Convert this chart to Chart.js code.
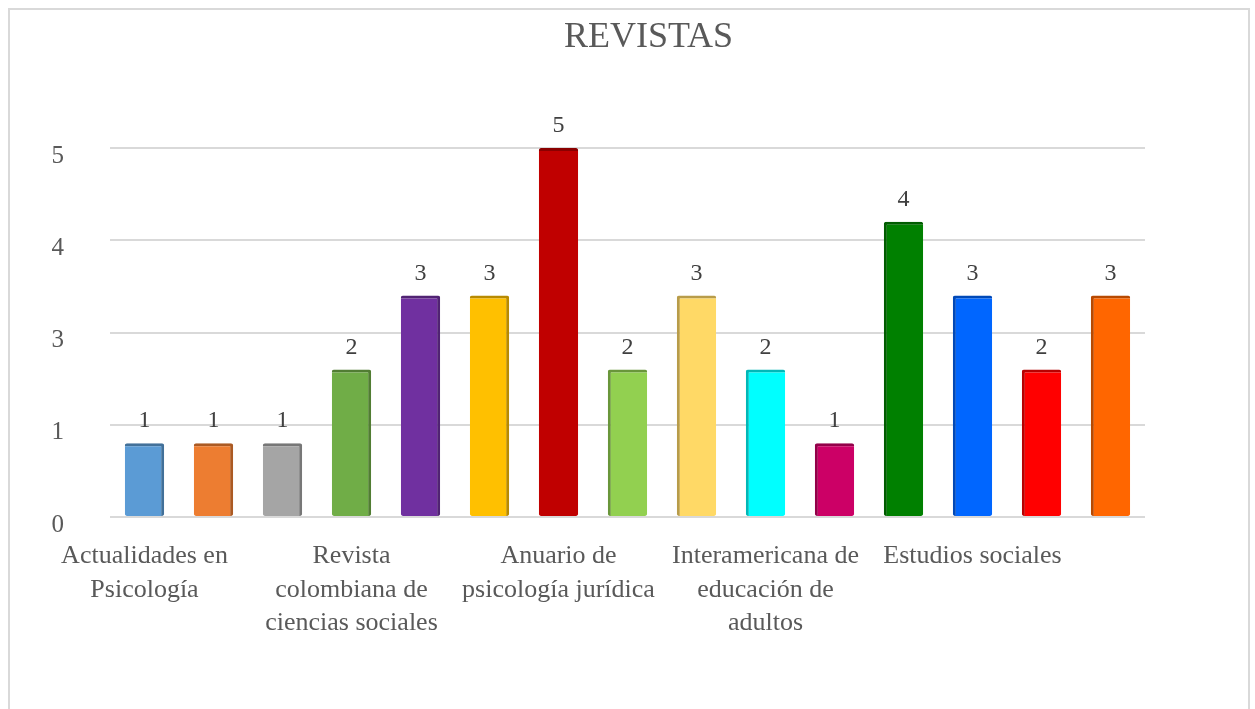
<!DOCTYPE html>
<html>
<head>
<meta charset="utf-8">
<script src="https://cdn.jsdelivr.net/npm/chart.js@4"></script>
<style>
  body { margin: 0; background: #fff; }
  #frame {
    position: absolute; left: 8px; top: 8px;
    width: 1238px; height: 720px;
    border: 2px solid #d9d9d9;
  }
  #wrap { position: absolute; left: 0; top: 0; width: 1255px; height: 709px; }
</style>
</head>
<body>
<div id="frame"></div>
<div id="wrap"><canvas id="chart" width="1255" height="709"></canvas></div>
<script>
// data
const chartTitle = "REVISTAS";
const categories = [
  ["Actualidades en", "Psicología"], "", "",
  ["Revista", "colombiana de", "ciencias sociales"], "", "",
  ["Anuario de", "psicología jurídica"], "", "",
  ["Interamericana de", "educación de", "adultos"], "", "",
  "Estudios sociales", "", ""
];
const values = [1, 1, 1, 2, 3, 3, 5, 2, 3, 2, 1, 4, 3, 2, 3];
const barColors = [
  "#5B9BD5", "#ED7D31", "#A5A5A5", "#70AD47", "#7030A0",
  "#FFC000", "#C00000", "#92D050", "#FFD966", "#00FFFF",
  "#CC0066", "#008000", "#0066FF", "#FF0000", "#FF6600"
];
const yTicks = [0, 1.25, 2.5, 3.75, 5];
const yTickLabels = ["0", "1", "3", "4", "5"];

const serif = "'Liberation Serif', 'Times New Roman', serif";

// darker edge to fake the 3d side of each bar
function shade(hex, f) {
  let n = parseInt(hex.slice(1), 16);
  let r = Math.round(((n >> 16) & 255) * f),
      g = Math.round(((n >> 8) & 255) * f),
      b = Math.round((n & 255) * f);
  return "rgb(" + r + "," + g + "," + b + ")";
}
const mid = 6;

const valueLabels = {
  id: "valueLabels",
  afterDatasetsDraw(chart) {
    const ctx = chart.ctx;
    const meta = chart.getDatasetMeta(0);
    ctx.save();
    ctx.font = "24px " + serif;
    ctx.fillStyle = "#404040";
    ctx.textAlign = "center";
    ctx.textBaseline = "middle";
    meta.data.forEach(function(bar, i){
      ctx.fillText(String(values[i]), bar.x, bar.y - 22);
    });
    // title, centred on the whole frame
    ctx.font = "36px " + serif;
    ctx.fillStyle = "#595959";
    ctx.fillText(chartTitle, chart.width / 2 + 21, 38);
    ctx.restore();
  }
};

new Chart("chart", {
  type: "bar",
  data: {
    labels: categories,
    datasets: [{
      data: values,
      backgroundColor: barColors,
      borderColor: barColors.map(c => shade(c, 0.72)),
      borderWidth: barColors.map((c, i) => ({
        top: 3,
        right: i < mid ? 3 : 0,
        left: i > mid ? 3 : 0,
        bottom: 0
      })),
      borderSkipped: false,
      borderRadius: 2,
      barPercentage: 0.57,
      categoryPercentage: 1.0
    }]
  },
  options: {
    responsive: false,
    animation: false,
    layout: { padding: { left: 0, right: 110, top: 148, bottom: 0 } },
    plugins: {
      legend: { display: false },
      tooltip: { enabled: false },
      title: { display: false }
    },
    scales: {
      x: {
        grid: { display: false },
        border: { display: false },
        ticks: {
          autoSkip: false,
          maxRotation: 0,
          padding: 14,
          color: "#595959",
          font: { family: serif, size: 26, lineHeight: 1.3 }
        },
        afterFit: function(scale){ scale.height = 192; }
      },
      y: {
        min: 0,
        max: 5,
        afterBuildTicks: function(scale){
          scale.ticks = yTicks.map(v => ({ value: v }));
        },
        grid: { color: "#d9d9d9", lineWidth: 2, drawTicks: false },
        border: { display: false },
        ticks: {
          padding: 46,
          labelOffset: 8,
          color: "#595959",
          font: { family: serif, size: 25 },
          callback: function(v, idx){ return yTickLabels[idx]; }
        },
        afterFit: function(scale){ scale.width = 110; }
      }
    }
  },
  plugins: [valueLabels]
});
</script>
</body>
</html>
